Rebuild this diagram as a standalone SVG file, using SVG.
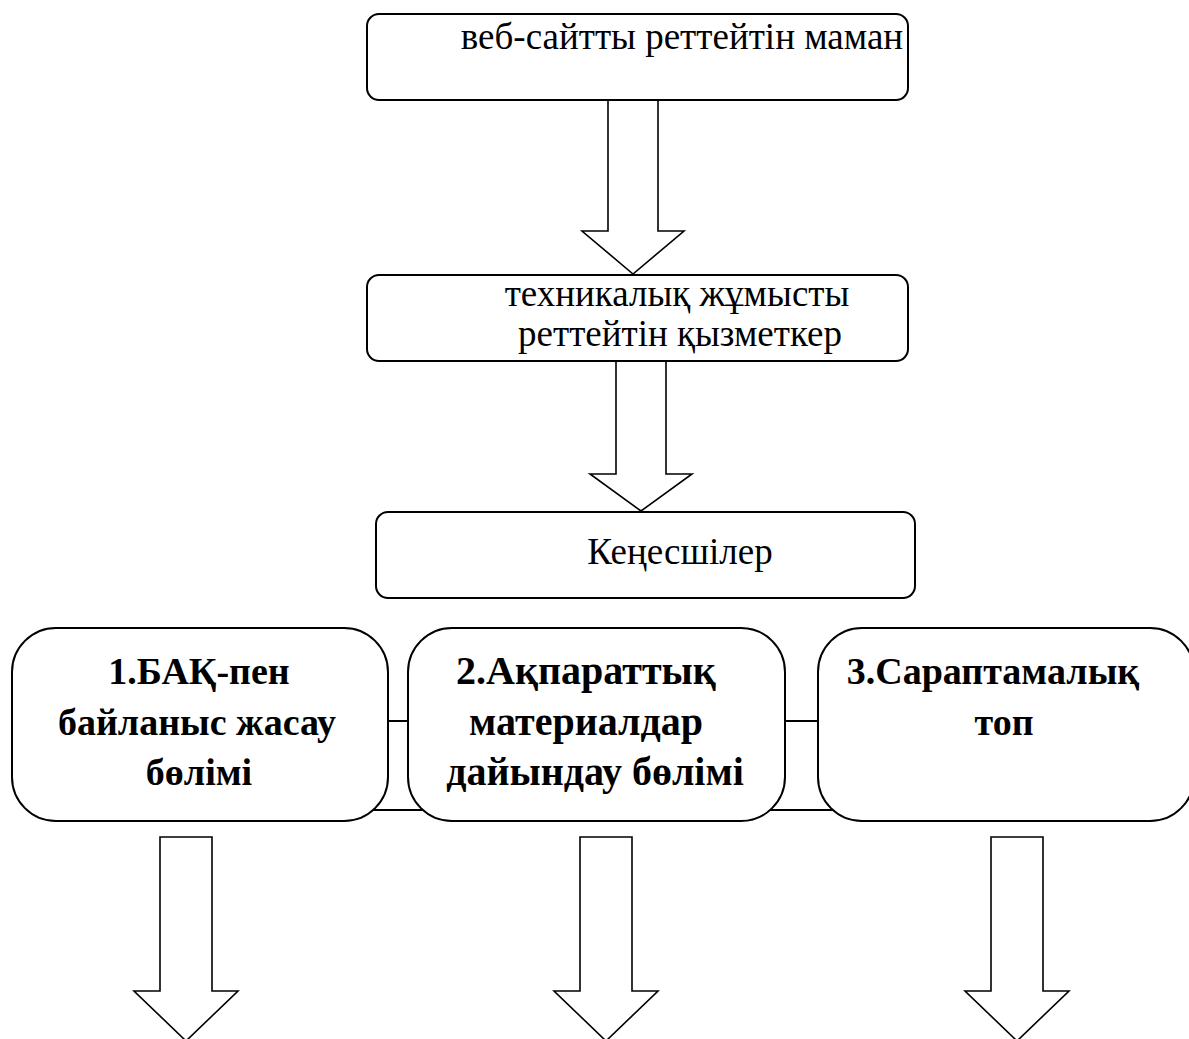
<svg xmlns="http://www.w3.org/2000/svg" width="1189" height="1039" viewBox="0 0 1189 1039">
<style>
.box{fill:#fff;stroke:#000;stroke-width:2}
.arr{fill:#fff;stroke:#000;stroke-width:1.6;stroke-linejoin:miter}
.con{stroke:#000;stroke-width:2;fill:none}
text{font-family:'Liberation Serif','DejaVu Serif',serif;font-size:37px;fill:#000;text-anchor:middle}
.b{font-weight:bold;font-size:38px}
.b2{font-weight:bold;font-size:40px}
</style>
<rect width="1189" height="1039" fill="#fff"/>
<g id="connectors">
<polygon class="arr" points="608,100 658,100 658,231 684,231 633,274 582,231 608,231"/>
<polygon class="arr" points="616,361 666,361 666,474 692,474 641,511 590,474 616,474"/>
<line class="con" x1="386" y1="721" x2="410" y2="721"/>
<line class="con" x1="360" y1="810" x2="435" y2="810"/>
<line class="con" x1="783" y1="721" x2="820" y2="721"/>
<line class="con" x1="760" y1="810" x2="845" y2="810"/>
<polygon class="arr" points="160,837 212,837 212,991 238,991 186,1041 134,991 160,991"/>
<polygon class="arr" points="580,837 632,837 632,991 658,991 606,1041 554,991 580,991"/>
<polygon class="arr" points="991,837 1043,837 1043,991 1069,991 1017,1041 965,991 991,991"/>
</g>
<g id="node1">
<rect class="box" x="367" y="14" width="541" height="86" rx="12"/>
<text x="682" y="49">веб-сайтты реттейтін маман</text>
</g>
<g id="node2">
<rect class="box" x="367" y="275" width="541" height="86" rx="12"/>
<text x="677" y="306">техникалық жұмысты</text>
<text x="680" y="346">реттейтін қызметкер</text>
</g>
<g id="node3">
<rect class="box" x="376" y="512" width="539" height="86" rx="12"/>
<text x="680" y="564">Кеңесшілер</text>
</g>
<g id="node4">
<rect class="box" x="12" y="628" width="376" height="193" rx="44"/>
<text class="b" x="199" y="684">1.БАҚ-пен</text>
<text class="b" x="197" y="735">байланыс жасау</text>
<text class="b" x="199" y="785">бөлімі</text>
</g>
<g id="node5">
<rect class="box" x="408" y="628" width="377" height="193" rx="44"/>
<text class="b2" x="586" y="684">2.Ақпараттық</text>
<text class="b2" x="586" y="735">материалдар</text>
<text class="b2" x="595" y="785">дайындау бөлімі</text>
</g>
<g id="node6">
<rect class="box" x="818" y="628" width="376" height="193" rx="44"/>
<text class="b" x="993" y="684">3.Сараптамалық</text>
<text class="b" x="1004" y="735">топ</text>
</g>
</svg>
